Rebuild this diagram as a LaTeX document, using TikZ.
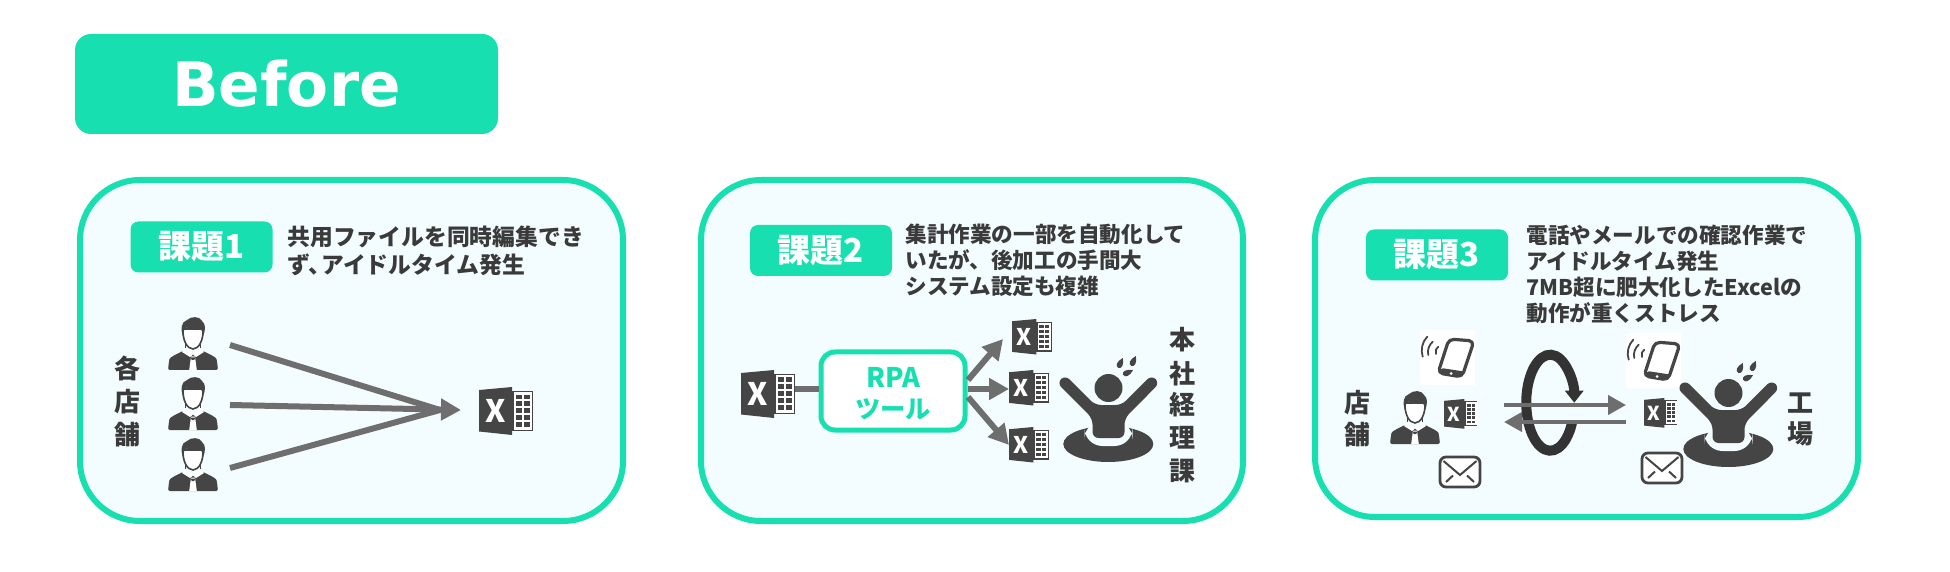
\documentclass[tikz,border=0pt]{standalone}
\usepackage{fontspec}
\setmainfont{Noto Sans CJK JP}
\newfontfamily\latinfont{DejaVu Sans}
\usetikzlibrary{arrows.meta, calc, positioning}
\definecolor{mint}{HTML}{17DFB0}
\definecolor{panelbg}{HTML}{F3FDFF}
\definecolor{icondk}{HTML}{454545}
\definecolor{arrowgray}{HTML}{6E6E6E}
\definecolor{loopdk}{HTML}{333333}
\definecolor{textdk}{HTML}{3A3A3A}
\tikzset{
  panelbox/.style  = {draw=mint, fill=panelbg, line width=3pt, rounded corners=30pt},
  titlebox/.style  = {fill=mint, text=white, rounded corners=8pt, inner sep=0pt,
                      font=\latinfont\fontsize{30.6}{34}\selectfont\bfseries,
                      minimum width=211.5pt, minimum height=50pt},
  issuebox/.style  = {fill=mint, text=white, rounded corners=4pt, inner sep=0pt,
                      font=\fontsize{16.5}{18}\selectfont\bfseries,
                      minimum width=71pt, minimum height=25.5pt},
  issuetext/.style = {anchor=north west, align=left, text=textdk, inner sep=0pt,
                      font=\fontsize{10.8}{13}\selectfont\bfseries},
  vlabel/.style    = {text=textdk, inner sep=0pt, font=\fontsize{13}{15}\selectfont\bfseries},
  rpabox/.style    = {draw=mint, fill=white, line width=2.5pt, rounded corners=7pt,
                      text=mint, align=center, inner sep=0pt,
                      font=\fontsize{12.6}{15.5}\selectfont\bfseries,
                      minimum width=72pt, minimum height=39pt},
  flow/.style      = {draw=arrowgray, line width=3pt},
  flowtip/.style   = {flow, -{Triangle[length=10pt, width=10.5pt]}},
  flowthin/.style  = {draw=arrowgray, line width=2pt, -{Triangle[length=9pt, width=9.5pt]}},
  looppath/.style  = {draw=loopdk, line width=5pt, -{Triangle[length=6pt, width=9pt]}},
  pics/xlsicon/.style = {code={
    \fill[icondk] (0,3) -- (33,0) -- (33,48) -- (0,44.5) -- cycle;
    \fill[icondk] (33,4) rectangle (54,44);
    \fill[white] (35,5.5) rectangle (52.5,42.5);
    \foreach \row in {0,1,2,3,4}{
      \fill[icondk] (37,{7.5+6.8*\row}) rectangle ++(6,4.8);
      \fill[icondk] (44.5,{7.5+6.8*\row}) rectangle ++(6,4.8);
    }
    \node[transform shape, text=white, inner sep=0pt,
          font=\fontsize{15.5}{15.5}\selectfont\bfseries] (-xmark) at (16.5,24) {X};
  }},
  pics/staffman/.style = {code={
    \fill[icondk, rounded corners=1pt] (0,53) -- (1,44) .. controls (2,40) and (9,37) .. (17,33)
      -- (25,38) -- (33,33) .. controls (41,37) and (48,40) .. (49,44) -- (50,53) -- cycle;
    \fill[white] (17,31) -- (25,36.5) -- (33,31) -- (36,35) -- (28,40) -- (25,37.5) -- (22,40) -- (14,35) -- cycle;
    \fill[white] (23,39.5) -- (27,39.5) -- (28.8,53) -- (21.2,53) -- cycle;
    \fill[icondk] (22.6,40.5) -- (27.4,40.5) -- (26.2,43) -- (23.8,43) -- cycle;
    \draw[icondk, line width=0.8pt, fill=white] (15,12) .. controls (14.5,23) and (19,32) .. (25,32)
      .. controls (31,32) and (35.5,23) .. (35,12) -- cycle;
    \draw[icondk, line width=0.8pt] (17.5,25) -- (17.5,31);
    \draw[icondk, line width=0.8pt] (32.5,25) -- (32.5,31);
    \fill[icondk] (14.8,19) .. controls (12.5,12) and (13,5) .. (19,3) .. controls (23,-1) and (32,-1) .. (34,4)
      .. controls (38,7) and (37.5,13) .. (35.2,19) .. controls (34.8,15) and (34,13) .. (32,11.5)
      .. controls (27,13) and (21,12.5) .. (18,10.5) .. controls (16,12) and (15.2,15) .. (14.8,19) -- cycle;
  }},
  pics/stressman/.style = {code={
    \fill[icondk] (48.3,89) ellipse[x radius=45, y radius=18];
    \fill[panelbg, rounded corners=9pt] (24.5,66) -- (72.5,66) -- (72.5,91) -- (24.5,91) -- cycle;
    \fill[icondk, rounded corners=3pt] (5,20) -- (35,50) -- (61.7,50) -- (91.6,20) -- (99.6,28)
      -- (64.5,63.5) -- (64.5,83) -- (32.5,83) -- (32.5,63.5) -- (-3,28) -- cycle;
    \fill[icondk] (48.5,33) circle (14);
    \foreach \dropx/\dropy/\droprot in {60/9/-25, 73/7/-25, 67/18/-65}{
      \fill[icondk, shift={(\dropx,\dropy)}, rotate=\droprot, scale=1.2] (0,-5.5) .. controls (3.5,-1) and (3,3.5) .. (0,3.5)
        .. controls (-3,3.5) and (-3.5,-1) .. (0,-5.5) -- cycle;
    }
  }},
  pics/phoneicon/.style = {code={
    \fill[white] (0,0) rectangle (55,55);
    \draw[icondk, line width=1.6pt, fill=white, rounded corners=2.5pt, line join=round]
      (29,9) -- (54,11) -- (42,47) -- (18,43) -- cycle;
    \fill[icondk, rounded corners=1pt] (21,38) -- (44,41.5) -- (42,47.5) -- (18,43) -- cycle;
    \fill[white] (31,43.5) circle (1.5);
    \draw[icondk, line width=0.9pt, line cap=round] (7.3,6.7) .. controls (2,12) and (0.5,20) .. (2.7,26.7);
    \draw[icondk, line width=0.9pt, line cap=round] (12.7,11.7) .. controls (9,15) and (7,20) .. (8.3,25);
    \draw[icondk, line width=0.9pt, line cap=round] (18.3,16.7) .. controls (16,18) and (15,21) .. (16,24);
  }},
  pics/mailicon/.style = {code={
    \draw[icondk, line width=1.4pt, fill=white, rounded corners=3pt] (0,0) rectangle (40,30);
    \draw[icondk, line width=1pt] (3.5,4) -- (20,18) -- (36.5,4);
    \draw[icondk, line width=1pt] (6,25) -- (13,18.5);
    \draw[icondk, line width=1pt] (34,25) -- (27,18.5);
  }},
}

\begin{document}
\begin{tikzpicture}[x=0.5pt, y=-0.5pt]
    \useasboundingbox (0,0) rectangle (1950,572);
    \node[titlebox] (before) at (286.5,84) {Before};

    \draw[panelbox] (80,180) rectangle (623,521);
    \node[issuebox] (issuea) at (201.5,247) {課題1};
    \node[issuetext, font=\fontsize{11.4}{13.6}\selectfont\bfseries] (texta) at (287,226) {共用ファイルを同時編集でき\\ず、\kern-5pt アイドルタイム発生};
    \foreach \ypos/\chr in {368/各, 402/店, 435/舗}{
      \node[vlabel] (shop\ypos) at (127,\ypos) {\chr};
    }
    \pic at (168,317) {staffman};
    \pic at (168,377) {staffman};
    \pic at (168,438) {staffman};
    \coordinate (mana) at (230,345);
    \coordinate (manb) at (230,405);
    \coordinate (manc) at (230,468);
    \coordinate (hub) at (461,410);
    \coordinate (hubin) at (440,410);
    \draw[flow] (mana) -- (hubin);
    \draw[flow] (manc) -- (hubin);
    \draw[flowtip] (manb) -- (hub);
    \pic[scale=1] (xlsa) at (479,387) {xlsicon};

    \draw[panelbox] (701,180) rectangle (1243,521);
    \node[issuebox] (issueb) at (821,250.5) {課題2};
    \node[issuetext] (textb) at (905,224) {集計作業の一部を自動化して\\いたが、後加工の手間大\\システム設定も複雑};
    \pic[scale=1] (xlsb) at (741,370) {xlsicon};
    \node[rpabox] (rpa) at (893,391) {\rule{0pt}{13pt}{\fontsize{13.5}{15.5}\selectfont RPA}\\ツール};
    \coordinate (xlsbout) at (795,389);
    \draw[flow] (xlsbout) -- (rpa.west |- xlsbout);
    \coordinate (xlsctip) at (1003,339);
    \coordinate (xlsdtip) at (1009,389);
    \coordinate (xlsetip) at (1009,445);
    \coordinate (rpaa) at (968,380);
    \coordinate (rpac) at (968,397);
    \draw[flowtip] (rpaa) -- (xlsctip);
    \draw[flowtip] (rpa.east |- xlsdtip) -- (xlsdtip);
    \draw[flowtip] (rpac) -- (xlsetip);
    \pic[scale=0.74] (xlsc) at (1012,319) {xlsicon};
    \pic[scale=0.74] (xlsd) at (1009,370) {xlsicon};
    \pic[scale=0.74] (xlse) at (1009,427) {xlsicon};
    \pic at (1060,355) {stressman};
    \foreach \ypos/\chr in {340/本, 374/社, 405/経, 438/理, 471/課}{
      \node[vlabel] (dept\ypos) at (1182,\ypos) {\chr};
    }

    \draw[panelbox] (1315,180) rectangle (1858,517);
    \node[issuebox] (issuec) at (1437,255) {課題3};
    \node[issuetext] (textc) at (1526,225) {電話やメールでの確認作業で\\アイドルタイム発生\\7MB超に肥大化したExcelの\\動作が重くストレス};
    \foreach \ypos/\chr in {403/店, 435/舗}{
      \node[vlabel] (store\ypos) at (1357,\ypos) {\chr};
    }
    \pic at (1390,391) {staffman};
    \pic[scale=0.62] (xlsf) at (1444,399) {xlsicon};
    \pic at (1420,330) {phoneicon};
    \pic at (1440,457) {mailicon};
    \draw[looppath] (1572,423) arc[start angle=25, end angle=360, x radius=24, y radius=48];
    \coordinate (loopa) at (1504,405);
    \coordinate (loopb) at (1626,405);
    \coordinate (loopc) at (1626,422);
    \coordinate (loopd) at (1504,422);
    \draw[flowthin] (loopa) -- (loopb);
    \draw[flowthin] (loopc) -- (loopd);
    \pic[scale=0.62] (xlsg) at (1644,398) {xlsicon};
    \pic at (1626,333) {phoneicon};
    \pic at (1642,453) {mailicon};
    \pic at (1680,360) {stressman};
    \foreach \ypos/\chr in {403/工, 434/場}{
      \node[vlabel] (plant\ypos) at (1800,\ypos) {\chr};
    }
\end{tikzpicture}
\end{document}
